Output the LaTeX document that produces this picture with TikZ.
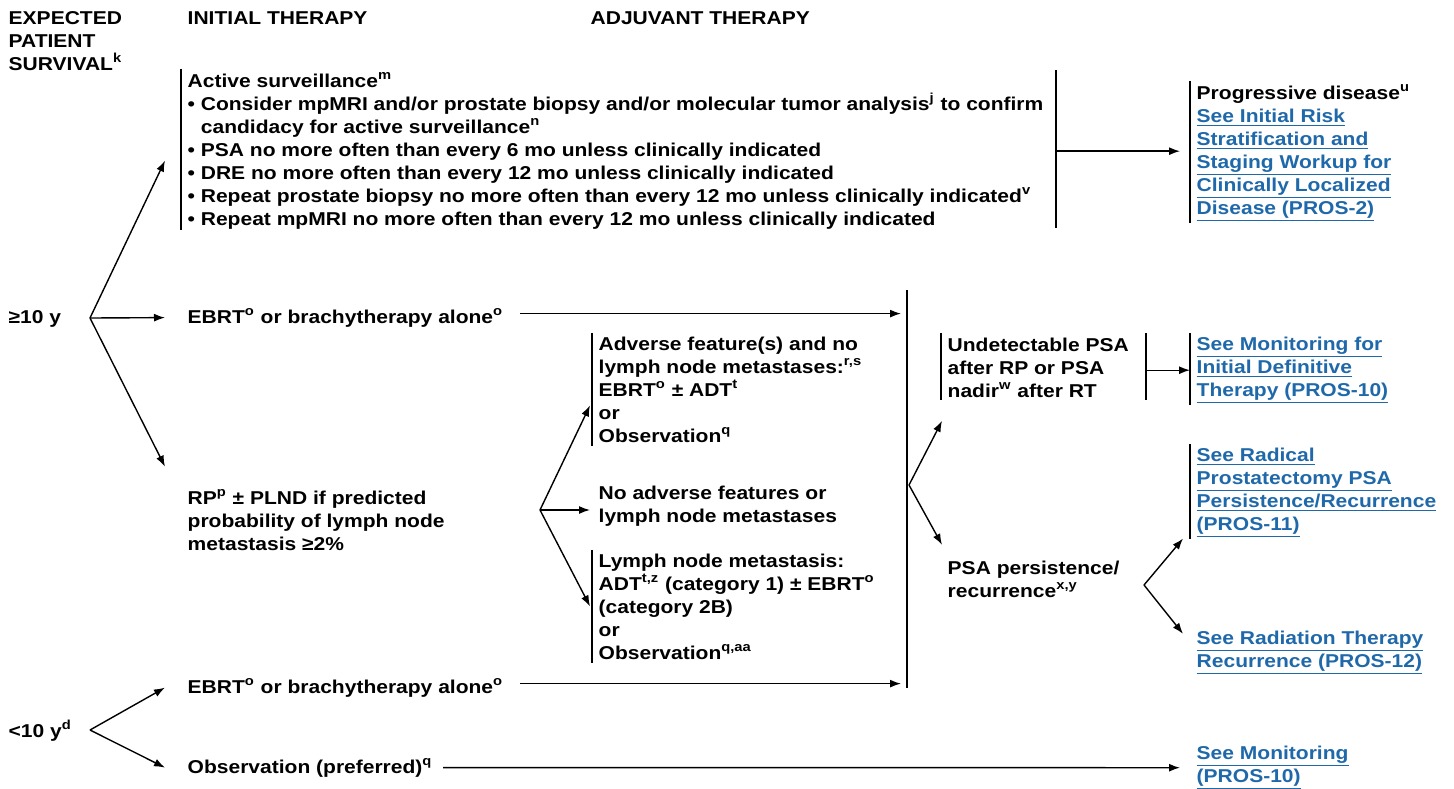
\documentclass[tikz,border=0pt]{standalone}
\usepackage{fontspec}
\setmainfont{Liberation Sans}[FakeStretch=1.13]
\usepackage{xcolor}
\usepackage{tikz}
\usetikzlibrary{arrows.meta}
\definecolor{linkblue}{RGB}{31,105,170}
\newcommand{\lnk}[1]{\textcolor{linkblue}{\underline{#1}}}
\newcommand{\sups}[1]{\textsuperscript{#1}}

\begin{document}
\begin{tikzpicture}[x=0.5pt,y=-0.5pt,
    txt/.style={anchor=base west,inner sep=0pt,align=left,font=\fontsize{9.3}{11.5}\selectfont\bfseries},
    arr/.style={line width=0.7pt,-{Latex[length=5.5pt,width=4pt]}},
    every path/.style={line width=0.7pt}]
    \useasboundingbox (0,0) rectangle (1454,788);

    \node[txt] (hsurv) at (8,70) {EXPECTED\\PATIENT\\SURVIVAL\sups{k}};
    \node[txt] (hinit) at (187,24) {INITIAL THERAPY};
    \node[txt] (hadj) at (590,24) {ADJUVANT THERAPY};

    \node[txt] (actsurv) at (187,225) {Active surveillance\sups{m}\\
        • Consider mpMRI and/or prostate biopsy and/or molecular tumor analysis\sups{j} to confirm\\
        \phantom{• }candidacy for active surveillance\sups{n}\\
        • PSA no more often than every 6 mo unless clinically indicated\\
        • DRE no more often than every 12 mo unless clinically indicated\\
        • Repeat prostate biopsy no more often than every 12 mo unless clinically indicated\sups{v}\\
        • Repeat mpMRI no more often than every 12 mo unless clinically indicated};
    \node[txt] (progdis) at (1196,214) {Progressive disease\sups{u}\\
        \lnk{See Initial Risk}\\ \lnk{Stratification and}\\ \lnk{Staging Workup for}\\
        \lnk{Clinically Localized}\\ \lnk{Disease (PROS-2)}};

    \node[txt] (survge) at (8,323) {≥10 y};
    \node[txt] (ebrtA) at (187,323) {EBRT\sups{o} or brachytherapy alone\sups{o}};
    \node[txt] (rp) at (187,550) {RP\sups{p} ± PLND if predicted\\probability of lymph node\\metastasis ≥2\%};

    \node[txt] (adverse) at (598,442) {Adverse feature(s) and no\\lymph node metastases:\sups{r,s}\\
        EBRT\sups{o} ± ADT\sups{t}\\or\\Observation\sups{q}};
    \node[txt] (noadv) at (598,522) {No adverse features or\\lymph node metastases};
    \node[txt] (lymph) at (598,659) {Lymph node metastasis:\\ADT\sups{t,z} (category 1) ± EBRT\sups{o}\\
        (category 2B)\\or\\Observation\sups{q,aa}};

    \node[txt] (undet) at (947,397) {Undetectable PSA\\after RP or PSA\\nadir\sups{w} after RT};
    \node[txt] (persist) at (947,597) {PSA persistence/\\recurrence\sups{x,y}};
    \node[txt] (monA) at (1196,396) {\lnk{See Monitoring for}\\ \lnk{Initial Definitive}\\ \lnk{Therapy (PROS-10)}};
    \node[txt] (radprost) at (1196,530) {\lnk{See Radical}\\ \lnk{Prostatectomy PSA}\\
        \lnk{Persistence/Recurrence}\\ \lnk{(PROS-11)}};
    \node[txt] (radther) at (1196,667) {\lnk{See Radiation Therapy}\\ \lnk{Recurrence (PROS-12)}};

    \node[txt] (ebrtB) at (187,693) {EBRT\sups{o} or brachytherapy alone\sups{o}};
    \node[txt] (survlt) at (8,737) {<10 y\sups{d}};
    \node[txt] (observ) at (187,773) {Observation (preferred)\sups{q}};
    \node[txt] (monB) at (1196,782) {\lnk{See Monitoring}\\ \lnk{(PROS-10)}};

    \draw ([shift={(-6,-3)}]actsurv.north west) -- ([shift={(-6,0)}]actsurv.south west);
    \draw ([shift={(-6,-3)}]progdis.north west) -- ([shift={(-6,0)}]progdis.south west);
    \draw ([shift={(-6,-3)}]adverse.north west) -- ([shift={(-6,3)}]adverse.south west);
    \draw ([shift={(-6,-3)}]lymph.north west) -- ([shift={(-6,3)}]lymph.south west);
    \draw ([shift={(-6,-4)}]undet.north west) -- ([shift={(-6,2)}]undet.south west);
    \draw ([shift={(-6,-3)}]monA.north west) -- ([shift={(-6,0)}]monA.south west);
    \draw ([shift={(-6,-3)}]radprost.north west) -- ([shift={(-6,0)}]radprost.south west);

    \coordinate (s1) at (90,318);
    \coordinate (s2) at (90,730);
    \coordinate (b1) at (540,510);
    \coordinate (b2) at (909,485);
    \coordinate (b3) at (1144,585);
    \coordinate (vt) at (907,290);
    \coordinate (vb) at (907,688);
    \coordinate (ct) at (1056,70);
    \coordinate (cb) at (1056,228);
    \coordinate (ut) at (1146,333);
    \coordinate (ub) at (1146,400);

    \draw[arr] (s1) -- ([shift={(-22,10)}]actsurv.west);
    \draw[arr] (s1) -- ([shift={(-22,0)}]ebrtA.west);
    \draw[arr] (s1) -- ([shift={(-22,-22)}]rp.north west);
    \draw[arr] (s2) -- ([shift={(-22,0)}]ebrtB.west);
    \draw[arr] (s2) -- ([shift={(-22,0)}]observ.west);

    \draw (ct) -- (cb);
    \draw[arr] ([yshift=1pt]ct |- progdis.west) -- ([shift={(-16,-2)}]progdis.west);

    \draw (vt) -- (vb);
    \draw[arr] ([shift={(16,-4)}]ebrtA.east) -- ([shift={(-6,-4)}]ebrtA.east -| vt);
    \draw[arr] ([shift={(16,-4)}]ebrtB.east) -- ([shift={(-6,-4)}]ebrtB.east -| vt);

    \draw[arr] (b1) -- ([shift={(-8,16)}]adverse.west);
    \draw[arr] (b1) -- ([xshift=-4pt]noadv.west |- b1);
    \draw[arr] (b1) -- ([xshift=-4pt]lymph.west);

    \draw[arr] (b2) -- ([shift={(-5,23)}]undet.south west);
    \draw[arr] (b2) -- ([shift={(-5,-15)}]persist.north west);

    \draw (ut) -- (ub);
    \draw[arr] (ut |- monA.west) -- ([xshift=-3pt]monA.west);

    \draw[arr] (b3) -- ([shift={(-13,0)}]radprost.south west);
    \draw[arr] (b3) -- ([shift={(-13,4)}]radther.north west);

    \draw[arr] ([xshift=5pt]observ.east) -- ([xshift=-8pt]monB.west);
\end{tikzpicture}
\end{document}
